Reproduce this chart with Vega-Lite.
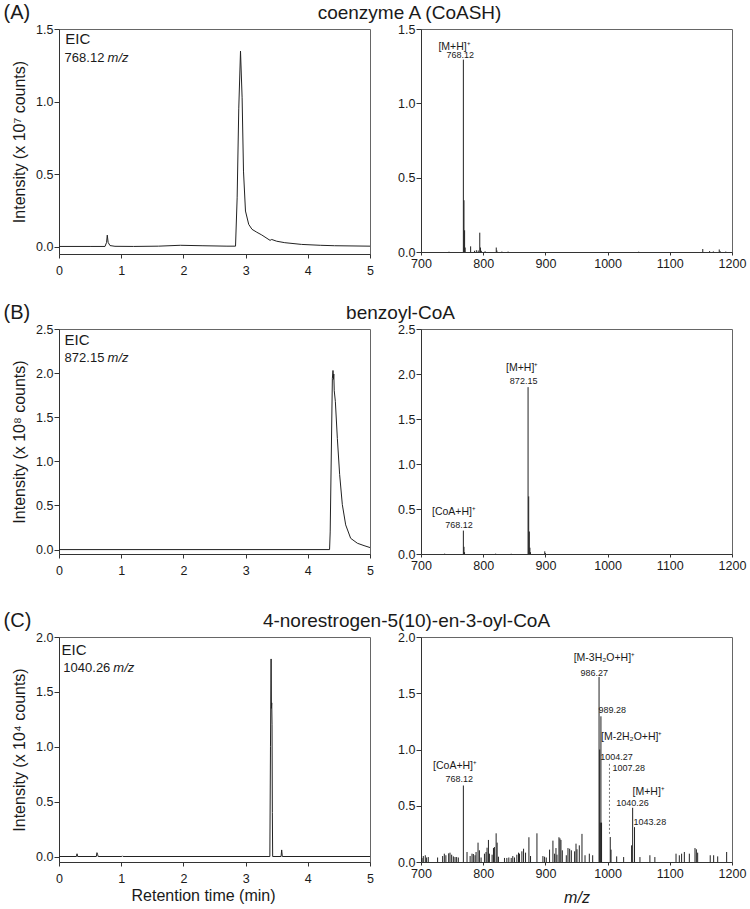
{
  "$schema": "https://vega.github.io/schema/vega-lite/v6.json",
  "padding": {"left": 3, "top": 2, "right": 4, "bottom": 1},
  "config": {
    "font": "Liberation Sans",
    "view": {"stroke": "#666", "strokeWidth": 1},
    "axis": {"grid": false, "domainColor": "#333", "tickColor": "#333", "labelColor": "#1a1a1a", "titleColor": "#1a1a1a", "labelFontSize": 12.5, "titleFontSize": 16, "titleFontWeight": "normal", "labelFont": "Liberation Sans", "titleFont": "Liberation Sans", "labelFlush": false, "labelOverlap": false},
    "title": {"fontWeight": "normal", "color": "#1a1a1a", "font": "Liberation Sans"},
    "text": {"font": "Liberation Sans", "color": "#1a1a1a"}
  },
  "datasets": {
    "eicA": [
      {"t": 0, "i": 0.002}, {"t": 0.5, "i": 0.002}, {"t": 0.74, "i": 0.002}, {"t": 0.765, "i": 0.03}, {"t": 0.776, "i": 0.08}, {"t": 0.79, "i": 0.03}, {"t": 0.82, "i": 0.008}, {"t": 0.9, "i": 0.003}, {"t": 1.2, "i": 0.002}, {"t": 1.6, "i": 0.004}, {"t": 1.95, "i": 0.01}, {"t": 2.3, "i": 0.007}, {"t": 2.7, "i": 0.004}, {"t": 2.838, "i": 0.004}, {"t": 2.864, "i": 0.337}, {"t": 2.89, "i": 0.95}, {"t": 2.918, "i": 1.348}, {"t": 2.944, "i": 1.026}, {"t": 2.966, "i": 0.521}, {"t": 2.998, "i": 0.246}, {"t": 3.05, "i": 0.154}, {"t": 3.103, "i": 0.12}, {"t": 3.18, "i": 0.1}, {"t": 3.26, "i": 0.081}, {"t": 3.393, "i": 0.044}, {"t": 3.42, "i": 0.05}, {"t": 3.5, "i": 0.038}, {"t": 3.63, "i": 0.028}, {"t": 3.9, "i": 0.016}, {"t": 4.2, "i": 0.01}, {"t": 4.43, "i": 0.007}, {"t": 5, "i": 0.004}
    ],
    "eicB": [
      {"t": 0, "i": 0}, {"t": 4.35, "i": 0}, {"t": 4.36, "i": 0.2}, {"t": 4.395, "i": 1.94}, {"t": 4.405, "i": 2.03}, {"t": 4.412, "i": 1.93}, {"t": 4.418, "i": 1.99}, {"t": 4.425, "i": 1.8}, {"t": 4.443, "i": 1.68}, {"t": 4.475, "i": 1.26}, {"t": 4.512, "i": 0.85}, {"t": 4.555, "i": 0.51}, {"t": 4.609, "i": 0.28}, {"t": 4.689, "i": 0.128}, {"t": 4.797, "i": 0.072}, {"t": 4.904, "i": 0.045}, {"t": 5, "i": 0.023}
    ],
    "eicC": [
      {"t": 0, "i": 0}, {"t": 0.28, "i": 0}, {"t": 0.29, "i": 0.025}, {"t": 0.3, "i": 0}, {"t": 0.6, "i": 0}, {"t": 0.61, "i": 0.035}, {"t": 0.62, "i": 0.02}, {"t": 0.63, "i": 0}, {"t": 1.01, "i": 0}, {"t": 1.02, "i": 0.006}, {"t": 1.03, "i": 0}, {"t": 3.39, "i": 0}, {"t": 3.4, "i": 1.0}, {"t": 3.41, "i": 1.8}, {"t": 3.415, "i": 1.35}, {"t": 3.42, "i": 1.4}, {"t": 3.425, "i": 1.2}, {"t": 3.43, "i": 0.4}, {"t": 3.435, "i": 0}, {"t": 3.57, "i": 0}, {"t": 3.58, "i": 0.06}, {"t": 3.59, "i": 0}, {"t": 5, "i": 0}
    ],
    "msA": [
      {"mz": 745, "i": 0.002}, {"mz": 768.12, "i": 1.294}, {"mz": 769.1, "i": 0.348}, {"mz": 770.1, "i": 0.146}, {"mz": 771, "i": 0.03}, {"mz": 779.8, "i": 0.038}, {"mz": 786, "i": 0.008}, {"mz": 789, "i": 0.012}, {"mz": 792, "i": 0.01}, {"mz": 794.5, "i": 0.13}, {"mz": 795.6, "i": 0.03}, {"mz": 797, "i": 0.008}, {"mz": 803, "i": 0.005}, {"mz": 821, "i": 0.03}, {"mz": 822, "i": 0.01}, {"mz": 830, "i": 0.003}, {"mz": 840, "i": 0.003}, {"mz": 1050, "i": 0.002}, {"mz": 1153, "i": 0.02}, {"mz": 1164, "i": 0.006}, {"mz": 1170, "i": 0.004}, {"mz": 1179.5, "i": 0.017}, {"mz": 1181, "i": 0.005}, {"mz": 1190, "i": 0.003}
    ],
    "msB": [
      {"mz": 738, "i": 0.004}, {"mz": 768.12, "i": 0.26}, {"mz": 769.1, "i": 0.08}, {"mz": 770, "i": 0.02}, {"mz": 820, "i": 0.004}, {"mz": 845, "i": 0.003}, {"mz": 872.15, "i": 1.854}, {"mz": 873.15, "i": 0.64}, {"mz": 874.15, "i": 0.25}, {"mz": 875.1, "i": 0.07}, {"mz": 876, "i": 0.02}, {"mz": 899, "i": 0.03}, {"mz": 900, "i": 0.01}
    ],
    "msC": [
      {"mz": 701, "i": 0.03}, {"mz": 701.6, "i": 0.036}, {"mz": 703.7, "i": 0.053}, {"mz": 706.9, "i": 0.06}, {"mz": 709, "i": 0.04}, {"mz": 711.7, "i": 0.044}, {"mz": 726.7, "i": 0.04}, {"mz": 734.8, "i": 0.053}, {"mz": 737.5, "i": 0.074}, {"mz": 740, "i": 0.06}, {"mz": 744.5, "i": 0.077}, {"mz": 746.6, "i": 0.083}, {"mz": 749.3, "i": 0.065}, {"mz": 752, "i": 0.05}, {"mz": 754.7, "i": 0.044}, {"mz": 757.3, "i": 0.044}, {"mz": 760, "i": 0.04}, {"mz": 768.12, "i": 0.68}, {"mz": 774, "i": 0.089}, {"mz": 779, "i": 0.053}, {"mz": 782, "i": 0.074}, {"mz": 784.2, "i": 0.071}, {"mz": 786.9, "i": 0.06}, {"mz": 788.5, "i": 0.089}, {"mz": 791.7, "i": 0.172}, {"mz": 793.9, "i": 0.104}, {"mz": 796.6, "i": 0.04}, {"mz": 802, "i": 0.074}, {"mz": 804.6, "i": 0.089}, {"mz": 806.2, "i": 0.127}, {"mz": 808.4, "i": 0.196}, {"mz": 810, "i": 0.074}, {"mz": 814.3, "i": 0.065}, {"mz": 816.5, "i": 0.124}, {"mz": 818, "i": 0.133}, {"mz": 820.8, "i": 0.255}, {"mz": 822.4, "i": 0.172}, {"mz": 824.5, "i": 0.047}, {"mz": 834.2, "i": 0.036}, {"mz": 838, "i": 0.036}, {"mz": 841.2, "i": 0.04}, {"mz": 845, "i": 0.036}, {"mz": 847.6, "i": 0.053}, {"mz": 850.3, "i": 0.04}, {"mz": 854.1, "i": 0.065}, {"mz": 856.8, "i": 0.083}, {"mz": 858.4, "i": 0.074}, {"mz": 862.2, "i": 0.095}, {"mz": 864.9, "i": 0.118}, {"mz": 868.1, "i": 0.083}, {"mz": 873.5, "i": 0.22}, {"mz": 876.1, "i": 0.053}, {"mz": 886.4, "i": 0.255}, {"mz": 896, "i": 0.053}, {"mz": 898.7, "i": 0.047}, {"mz": 901.4, "i": 0.04}, {"mz": 906.7, "i": 0.11}, {"mz": 912.1, "i": 0.19}, {"mz": 914.8, "i": 0.074}, {"mz": 917, "i": 0.124}, {"mz": 918.6, "i": 0.065}, {"mz": 921.8, "i": 0.22}, {"mz": 923.4, "i": 0.21}, {"mz": 925, "i": 0.196}, {"mz": 927.2, "i": 0.104}, {"mz": 933.6, "i": 0.06}, {"mz": 936.3, "i": 0.124}, {"mz": 939, "i": 0.118}, {"mz": 941.7, "i": 0.104}, {"mz": 947, "i": 0.095}, {"mz": 949.2, "i": 0.163}, {"mz": 950.8, "i": 0.113}, {"mz": 954.5, "i": 0.148}, {"mz": 958.8, "i": 0.25}, {"mz": 963.7, "i": 0.06}, {"mz": 970.6, "i": 0.074}, {"mz": 976, "i": 0.06}, {"mz": 986.27, "i": 1.645}, {"mz": 987.27, "i": 1.0}, {"mz": 988.28, "i": 0.35}, {"mz": 989.28, "i": 1.295}, {"mz": 990.28, "i": 0.35}, {"mz": 1004.27, "i": 0.222}, {"mz": 1005.5, "i": 0.11}, {"mz": 1014.6, "i": 0.05}, {"mz": 1025.8, "i": 0.044}, {"mz": 1038.6, "i": 0.148}, {"mz": 1040.26, "i": 0.482}, {"mz": 1043.28, "i": 0.31}, {"mz": 1052, "i": 0.044}, {"mz": 1068, "i": 0.06}, {"mz": 1076, "i": 0.044}, {"mz": 1110, "i": 0.074}, {"mz": 1115.3, "i": 0.06}, {"mz": 1119, "i": 0.074}, {"mz": 1123.4, "i": 0.089}, {"mz": 1131.4, "i": 0.074}, {"mz": 1140.5, "i": 0.124}, {"mz": 1142.7, "i": 0.113}, {"mz": 1144.8, "i": 0.083}, {"mz": 1165, "i": 0.06}, {"mz": 1170.5, "i": 0.06}, {"mz": 1177, "i": 0.05}, {"mz": 1191.4, "i": 0.089}
    ],
    "leader": [
      {"mz": 1003, "lo": 0.25, "hi": 0.88}
    ],
    "notes": [
      {"panel": "A1", "kind": "eic", "x": 0.1, "y": 1.394, "label": "EIC"},
      {"panel": "A1", "kind": "val", "x": 0.09, "y": 1.272, "label": "768.12"},
      {"panel": "A1", "kind": "unit", "x": 0.09, "y": 1.272, "label": "m/z"},
      {"panel": "B1", "kind": "eic", "x": 0.09, "y": 2.316, "label": "EIC"},
      {"panel": "B1", "kind": "val", "x": 0.09, "y": 2.127, "label": "872.15"},
      {"panel": "B1", "kind": "unit", "x": 0.09, "y": 2.127, "label": "m/z"},
      {"panel": "C1", "kind": "eic", "x": 0.04, "y": 1.835, "label": "EIC"},
      {"panel": "C1", "kind": "val", "x": 0.07, "y": 1.684, "label": "1040.26"},
      {"panel": "C1", "kind": "unit", "x": 0.07, "y": 1.684, "label": "m/z"},
      {"panel": "A2", "kind": "ion", "x": 754, "y": 1.361, "label": "[M+H]⁺"},
      {"panel": "A2", "kind": "num", "x": 763, "y": 1.305, "label": "768.12"},
      {"panel": "B2", "kind": "ion", "x": 862.7, "y": 2.03, "label": "[M+H]⁺"},
      {"panel": "B2", "kind": "num", "x": 865, "y": 1.89, "label": "872.15"},
      {"panel": "B2", "kind": "ion", "x": 753, "y": 0.434, "label": "[CoA+H]⁺"},
      {"panel": "B2", "kind": "num", "x": 761, "y": 0.286, "label": "768.12"},
      {"panel": "C2", "kind": "ion", "x": 754.7, "y": 0.83, "label": "[CoA+H]⁺"},
      {"panel": "C2", "kind": "num", "x": 761.6, "y": 0.711, "label": "768.12"},
      {"panel": "C2", "kind": "ion", "x": 994.8, "y": 1.79, "label": "[M-3H₂O+H]⁺"},
      {"panel": "C2", "kind": "num", "x": 978.7, "y": 1.653, "label": "986.27"},
      {"panel": "C2", "kind": "numL", "x": 985.5, "y": 1.327, "label": "989.28"},
      {"panel": "C2", "kind": "ionL", "x": 989.4, "y": 1.081, "label": "[M-2H₂O+H]⁺"},
      {"panel": "C2", "kind": "numL", "x": 988.3, "y": 0.903, "label": "1004.27"},
      {"panel": "C2", "kind": "numL", "x": 1008, "y": 0.805, "label": "1007.28"},
      {"panel": "C2", "kind": "ion", "x": 1066, "y": 0.6, "label": "[M+H]⁺"},
      {"panel": "C2", "kind": "num", "x": 1040.2, "y": 0.495, "label": "1040.26"},
      {"panel": "C2", "kind": "numL", "x": 1041.8, "y": 0.332, "label": "1043.28"}
    ]
  },
  "vconcat": [
    {
      "vconcat": [
        {
          "hconcat": [
            {
              "width": 311, "height": 225,
              "title": {"text": "(A)", "anchor": "start", "frame": "bounds", "fontSize": 20, "dx": -8, "offset": 0},
              "layer": [
                {"data": {"name": "eicA"}, "mark": {"type": "line", "color": "#222", "strokeWidth": 1},
                 "encoding": {
                   "x": {"field": "t", "type": "quantitative", "scale": {"domain": [0, 5], "nice": false}, "axis": {"values": [0, 1, 2, 3, 4, 5], "format": "d", "tickSize": 4, "labelPadding": 6, "title": null}},
                   "y": {"field": "i", "type": "quantitative", "scale": {"domain": [-0.05, 1.5], "nice": false, "zero": false}, "axis": {"values": [0, 0.5, 1, 1.5], "format": ".1f", "tickSize": 5, "labelPadding": 1, "title": "Intensity (x 10⁷ counts)", "titlePadding": 8}}
                 }},
                {"data": {"name": "notes"}, "transform": [{"filter": "datum.panel == 'A1' && datum.kind == 'eic'"}], "mark": {"type": "text", "align": "left", "baseline": "alphabetic", "fontSize": 15},
                 "encoding": {"x": {"field": "x", "type": "quantitative"}, "y": {"field": "y", "type": "quantitative"}, "text": {"field": "label"}}},
                {"data": {"name": "notes"}, "transform": [{"filter": "datum.panel == 'A1' && datum.kind == 'val'"}], "mark": {"type": "text", "align": "left", "baseline": "alphabetic", "fontSize": 13},
                 "encoding": {"x": {"field": "x", "type": "quantitative"}, "y": {"field": "y", "type": "quantitative"}, "text": {"field": "label"}}},
                {"data": {"name": "notes"}, "transform": [{"filter": "datum.panel == 'A1' && datum.kind == 'unit'"}], "mark": {"type": "text", "align": "left", "baseline": "alphabetic", "fontSize": 13, "fontStyle": "italic", "dx": 43},
                 "encoding": {"x": {"field": "x", "type": "quantitative"}, "y": {"field": "y", "type": "quantitative"}, "text": {"field": "label"}}}
              ]
            },
            {
              "width": 311, "height": 223,
              "title": {"text": "coenzyme A (CoASH)", "anchor": "middle", "frame": "group", "fontSize": 19, "dx": -167, "offset": 0},
              "layer": [
                {"data": {"name": "msA"}, "mark": {"type": "rule", "color": "#222", "strokeWidth": 1},
                 "encoding": {
                   "x": {"field": "mz", "type": "quantitative", "scale": {"domain": [700, 1200], "nice": false}, "axis": {"values": [700, 800, 900, 1000, 1100, 1200], "format": "d", "tickSize": 3, "labelPadding": 2, "title": null}},
                   "y": {"field": "i", "type": "quantitative", "scale": {"domain": [0, 1.5], "nice": false}, "axis": {"values": [0, 0.5, 1, 1.5], "format": ".1f", "tickSize": 5, "labelPadding": 1, "title": null}},
                   "y2": {"datum": 0}
                 }},
                {"data": {"name": "notes"}, "transform": [{"filter": "datum.panel == 'A2' && datum.kind == 'ion'"}], "mark": {"type": "text", "align": "center", "baseline": "alphabetic", "fontSize": 10.5},
                 "encoding": {"x": {"field": "x", "type": "quantitative"}, "y": {"field": "y", "type": "quantitative"}, "text": {"field": "label"}}},
                {"data": {"name": "notes"}, "transform": [{"filter": "datum.panel == 'A2' && datum.kind == 'num'"}], "mark": {"type": "text", "align": "center", "baseline": "alphabetic", "fontSize": 9},
                 "encoding": {"x": {"field": "x", "type": "quantitative"}, "y": {"field": "y", "type": "quantitative"}, "text": {"field": "label"}}}
              ]
            }
          ],
          "spacing": 51, "bounds": "flush"
        },
        {
          "hconcat": [
            {
              "width": 311, "height": 225,
              "title": {"text": "(B)", "anchor": "start", "frame": "bounds", "fontSize": 20, "dx": -8, "offset": 0},
              "layer": [
                {"data": {"name": "eicB"}, "mark": {"type": "line", "color": "#222", "strokeWidth": 1},
                 "encoding": {
                   "x": {"field": "t", "type": "quantitative", "scale": {"domain": [0, 5], "nice": false}, "axis": {"values": [0, 1, 2, 3, 4, 5], "format": "d", "tickSize": 4, "labelPadding": 6, "title": null}},
                   "y": {"field": "i", "type": "quantitative", "scale": {"domain": [-0.05, 2.5], "nice": false, "zero": false}, "axis": {"values": [0, 0.5, 1, 1.5, 2, 2.5], "format": ".1f", "tickSize": 5, "labelPadding": 1, "title": "Intensity (x 10⁸ counts)", "titlePadding": 8}}
                 }},
                {"data": {"name": "notes"}, "transform": [{"filter": "datum.panel == 'B1' && datum.kind == 'eic'"}], "mark": {"type": "text", "align": "left", "baseline": "alphabetic", "fontSize": 15},
                 "encoding": {"x": {"field": "x", "type": "quantitative"}, "y": {"field": "y", "type": "quantitative"}, "text": {"field": "label"}}},
                {"data": {"name": "notes"}, "transform": [{"filter": "datum.panel == 'B1' && datum.kind == 'val'"}], "mark": {"type": "text", "align": "left", "baseline": "alphabetic", "fontSize": 13},
                 "encoding": {"x": {"field": "x", "type": "quantitative"}, "y": {"field": "y", "type": "quantitative"}, "text": {"field": "label"}}},
                {"data": {"name": "notes"}, "transform": [{"filter": "datum.panel == 'B1' && datum.kind == 'unit'"}], "mark": {"type": "text", "align": "left", "baseline": "alphabetic", "fontSize": 13, "fontStyle": "italic", "dx": 43},
                 "encoding": {"x": {"field": "x", "type": "quantitative"}, "y": {"field": "y", "type": "quantitative"}, "text": {"field": "label"}}}
              ]
            },
            {
              "width": 311, "height": 225,
              "title": {"text": "benzoyl-CoA", "anchor": "middle", "frame": "group", "fontSize": 19, "dx": -176, "offset": 0},
              "layer": [
                {"data": {"name": "msB"}, "mark": {"type": "rule", "color": "#222", "strokeWidth": 1},
                 "encoding": {
                   "x": {"field": "mz", "type": "quantitative", "scale": {"domain": [700, 1200], "nice": false}, "axis": {"values": [700, 800, 900, 1000, 1100, 1200], "format": "d", "tickSize": 3, "labelPadding": 2, "title": null}},
                   "y": {"field": "i", "type": "quantitative", "scale": {"domain": [0, 2.5], "nice": false}, "axis": {"values": [0, 0.5, 1, 1.5, 2, 2.5], "format": ".1f", "tickSize": 5, "labelPadding": 1, "title": null}},
                   "y2": {"datum": 0}
                 }},
                {"data": {"name": "notes"}, "transform": [{"filter": "datum.panel == 'B2' && datum.kind == 'ion'"}], "mark": {"type": "text", "align": "center", "baseline": "alphabetic", "fontSize": 10.5},
                 "encoding": {"x": {"field": "x", "type": "quantitative"}, "y": {"field": "y", "type": "quantitative"}, "text": {"field": "label"}}},
                {"data": {"name": "notes"}, "transform": [{"filter": "datum.panel == 'B2' && datum.kind == 'num'"}], "mark": {"type": "text", "align": "center", "baseline": "alphabetic", "fontSize": 9},
                 "encoding": {"x": {"field": "x", "type": "quantitative"}, "y": {"field": "y", "type": "quantitative"}, "text": {"field": "label"}}}
              ]
            }
          ],
          "spacing": 51, "bounds": "flush"
        }
      ],
      "spacing": 25
    },
    {
      "hconcat": [
        {
          "width": 311, "height": 225,
          "title": {"text": "(C)", "anchor": "start", "frame": "bounds", "fontSize": 20, "dx": -8, "offset": 0},
          "layer": [
            {"data": {"name": "eicC"}, "mark": {"type": "line", "color": "#222", "strokeWidth": 1},
             "encoding": {
               "x": {"field": "t", "type": "quantitative", "scale": {"domain": [0, 5], "nice": false}, "axis": {"values": [0, 1, 2, 3, 4, 5], "format": "d", "tickSize": 4, "labelPadding": 6, "title": "Retention time (min)", "titlePadding": 3, "titleX": 144}},
               "y": {"field": "i", "type": "quantitative", "scale": {"domain": [-0.05, 2.0], "nice": false, "zero": false}, "axis": {"values": [0, 0.5, 1, 1.5, 2], "format": ".1f", "tickSize": 5, "labelPadding": 1, "title": "Intensity (x 10⁴ counts)", "titlePadding": 8}}
             }},
            {"data": {"name": "notes"}, "transform": [{"filter": "datum.panel == 'C1' && datum.kind == 'eic'"}], "mark": {"type": "text", "align": "left", "baseline": "alphabetic", "fontSize": 15},
             "encoding": {"x": {"field": "x", "type": "quantitative"}, "y": {"field": "y", "type": "quantitative"}, "text": {"field": "label"}}},
            {"data": {"name": "notes"}, "transform": [{"filter": "datum.panel == 'C1' && datum.kind == 'val'"}], "mark": {"type": "text", "align": "left", "baseline": "alphabetic", "fontSize": 13},
             "encoding": {"x": {"field": "x", "type": "quantitative"}, "y": {"field": "y", "type": "quantitative"}, "text": {"field": "label"}}},
            {"data": {"name": "notes"}, "transform": [{"filter": "datum.panel == 'C1' && datum.kind == 'unit'"}], "mark": {"type": "text", "align": "left", "baseline": "alphabetic", "fontSize": 13, "fontStyle": "italic", "dx": 50},
             "encoding": {"x": {"field": "x", "type": "quantitative"}, "y": {"field": "y", "type": "quantitative"}, "text": {"field": "label"}}}
          ]
        },
        {
          "width": 311, "height": 225,
          "title": {"text": "4-norestrogen-5(10)-en-3-oyl-CoA", "anchor": "middle", "frame": "group", "fontSize": 19, "dx": -170, "offset": 0},
          "layer": [
            {"data": {"name": "msC"}, "mark": {"type": "rule", "color": "#222", "strokeWidth": 1},
             "encoding": {
               "x": {"field": "mz", "type": "quantitative", "scale": {"domain": [700, 1200], "nice": false}, "axis": {"values": [700, 800, 900, 1000, 1100, 1200], "format": "d", "tickSize": 3, "labelPadding": 2, "title": "m/z", "titleFontStyle": "italic", "titlePadding": 10}},
               "y": {"field": "i", "type": "quantitative", "scale": {"domain": [0, 2.0], "nice": false}, "axis": {"values": [0, 0.5, 1, 1.5, 2], "format": ".1f", "tickSize": 5, "labelPadding": 1, "title": null}},
               "y2": {"datum": 0}
             }},
            {"data": {"name": "leader"}, "mark": {"type": "rule", "color": "#777", "strokeWidth": 1, "strokeDash": [2, 2]},
             "encoding": {"x": {"field": "mz", "type": "quantitative"}, "y": {"field": "lo", "type": "quantitative"}, "y2": {"field": "hi"}}},
            {"data": {"name": "notes"}, "transform": [{"filter": "datum.panel == 'C2' && datum.kind == 'ion'"}], "mark": {"type": "text", "align": "center", "baseline": "alphabetic", "fontSize": 10.5},
             "encoding": {"x": {"field": "x", "type": "quantitative"}, "y": {"field": "y", "type": "quantitative"}, "text": {"field": "label"}}},
            {"data": {"name": "notes"}, "transform": [{"filter": "datum.panel == 'C2' && datum.kind == 'ionL'"}], "mark": {"type": "text", "align": "left", "baseline": "alphabetic", "fontSize": 10.5},
             "encoding": {"x": {"field": "x", "type": "quantitative"}, "y": {"field": "y", "type": "quantitative"}, "text": {"field": "label"}}},
            {"data": {"name": "notes"}, "transform": [{"filter": "datum.panel == 'C2' && datum.kind == 'num'"}], "mark": {"type": "text", "align": "center", "baseline": "alphabetic", "fontSize": 9},
             "encoding": {"x": {"field": "x", "type": "quantitative"}, "y": {"field": "y", "type": "quantitative"}, "text": {"field": "label"}}},
            {"data": {"name": "notes"}, "transform": [{"filter": "datum.panel == 'C2' && datum.kind == 'numL'"}], "mark": {"type": "text", "align": "left", "baseline": "alphabetic", "fontSize": 9},
             "encoding": {"x": {"field": "x", "type": "quantitative"}, "y": {"field": "y", "type": "quantitative"}, "text": {"field": "label"}}}
          ]
        }
      ],
      "spacing": 51, "bounds": "flush"
    }
  ],
  "spacing": 33
}
